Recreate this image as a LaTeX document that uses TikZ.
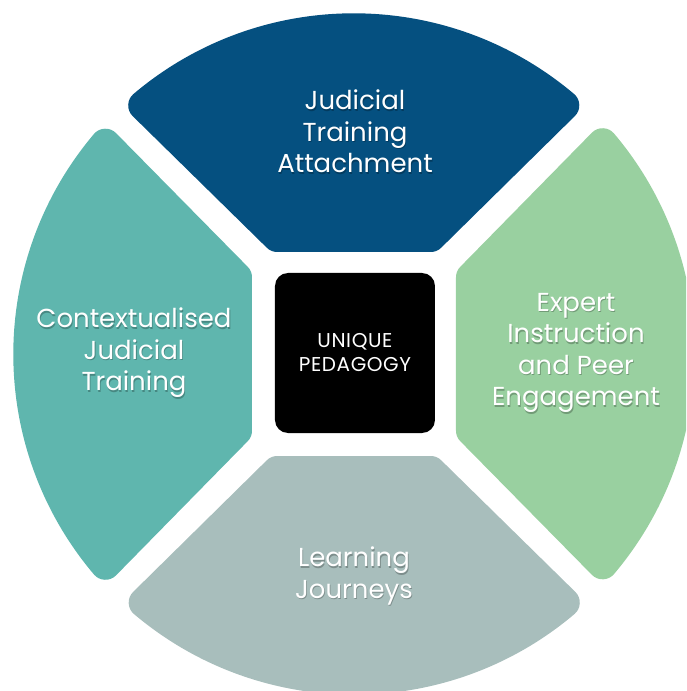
\documentclass[tikz,border=0pt]{standalone}
\usepackage{fontspec}
\setmainfont{Poppins}
\newfontfamily\hubfont[LetterSpace=3]{Poppins}
\definecolor{topc}{HTML}{055080}
\definecolor{leftc}{HTML}{5FB6AE}
\definecolor{rightc}{HTML}{99D0A0}
\definecolor{botc}{HTML}{A8BEBC}
\tikzset{
  sector/.style={line width=30pt, line join=round},
  lbl/.style={text=white, align=center, font=\fontsize{26}{31.5}\selectfont},
  shade/.style={text=black, text opacity=0.25, align=center, font=\fontsize{26}{31.5}\selectfont},
  hub/.style={fill=black, rounded corners=13pt, minimum size=160pt, text=white, align=center, inner sep=0pt, font=\hubfont\fontsize{20}{24}\selectfont}
}
\begin{document}
\begin{tikzpicture}[x=1pt,y=1pt]
\useasboundingbox (-354,-337) rectangle (332,354);
\clip (-354,-337) rectangle (332,354);
\foreach \ang/\col in {0/topc,90/leftc,180/botc,270/rightc}{
  \begin{scope}[rotate=\ang]
    \filldraw[sector, fill=\col, draw=\col] (-76.7,117) -- (76.7,117) -- (210.3,248.6) arc[start angle=49.77,end angle=130.23,radius=326] -- cycle;
  \end{scope}
}
\node[hub] (hubnode) at (1,1) {UNIQUE\\PEDAGOGY};
\node[shade] (tops) at (1.8,221.2) {Judicial\\Training\\Attachment};
\node[lbl] (topt) at (1,222.5) {Judicial\\Training\\Attachment};
\node[shade] (lefts) at (-219.2,-0.3) {Contextualised\\Judicial\\Training};
\node[lbl] (leftt) at (-220,1) {Contextualised\\Judicial\\Training};
\node[shade] (rights) at (222.8,-0.3) {Expert\\Instruction\\and Peer\\Engagement};
\node[lbl] (rightt) at (222,1) {Expert\\Instruction\\and Peer\\Engagement};
\node[shade] (bots) at (0.8,-223.3) {Learning\\Journeys};
\node[lbl] (bott) at (0,-222) {Learning\\Journeys};
\end{tikzpicture}
\end{document}
